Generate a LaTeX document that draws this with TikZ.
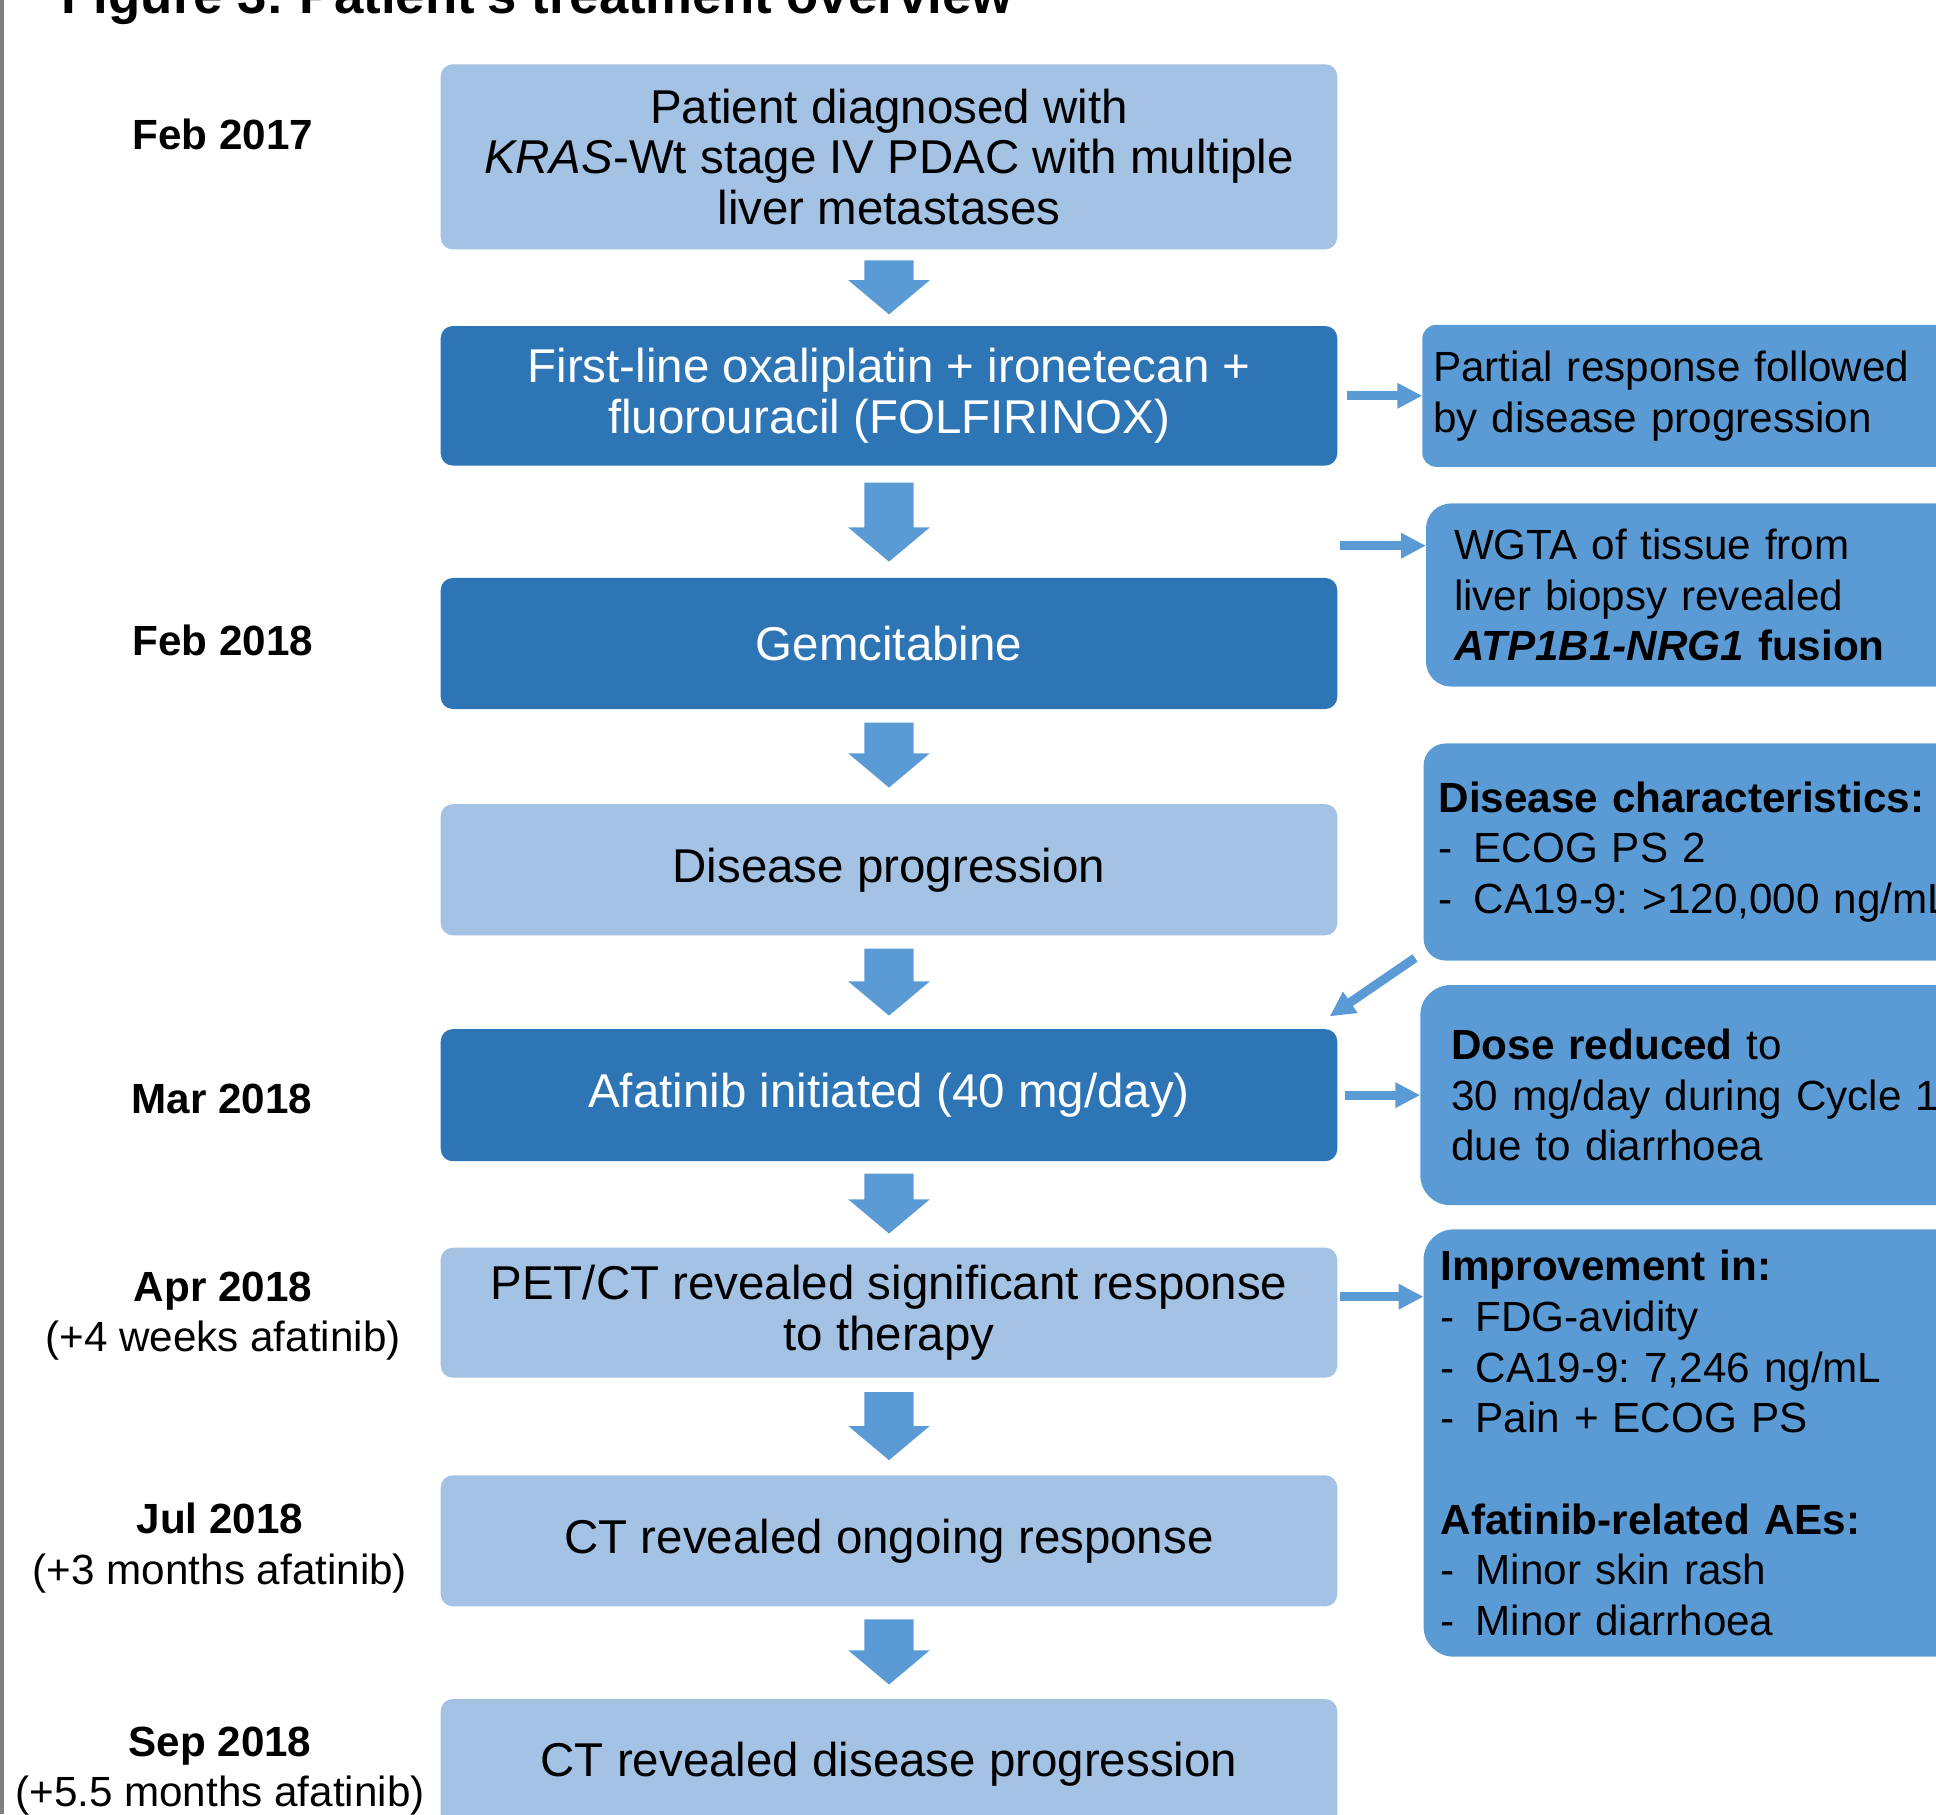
\documentclass[tikz,border=0pt]{standalone}
\usepackage{fontspec}
\setmainfont{Liberation Sans}
\frenchspacing
\definecolor{LightBox}{RGB}{164, 194, 228}
\definecolor{DarkBox}{RGB}{46, 117, 182}
\definecolor{SideBox}{RGB}{91, 155, 213}
\definecolor{FlowArrow}{RGB}{91, 155, 213}
\usetikzlibrary{arrows.meta, positioning, shapes.arrows, calc}
\newcommand{\dashitem}[1]{\makebox[0.35cm][l]{-}#1}

\begin{document}
\begin{tikzpicture}[x=0.01cm, y=-0.01cm,
  every node/.style={font=\fontsize{13.5}{14.4}\selectfont, align=center, outer sep=0pt},
  lightbox/.style={fill=LightBox, rounded corners=0.12cm, minimum width=8.96cm, inner sep=2pt},
  darkbox/.style={fill=DarkBox, text=white, rounded corners=0.12cm, minimum width=8.96cm, inner sep=2pt},
  sidebox/.style={fill=SideBox, anchor=west, align=left, text width=6cm, rounded corners=0.25cm, font=\fontsize{12}{14.4}\selectfont},
  datelbl/.style={font=\fontsize{12}{14.4}\selectfont},
  downarr/.style={single arrow, anchor=tail, fill=FlowArrow, shape border rotate=270, minimum width=0.8cm, single arrow head extend=0.16cm, single arrow tip angle=100, inner xsep=0.24cm, inner ysep=0pt},
  sidearr/.style={-{Triangle[length=0.25cm, width=0.24cm]}, line width=0.09cm, FlowArrow}]
\clip (0,0) rectangle (1936,1814);
\draw[gray, line width=0.04cm] (2,0) -- (2,1814);
\node[font=\bfseries\fontsize{15}{18}\selectfont, anchor=base west] (title) at (50,13) {Figure 3: Patient's treatment overview};

% main flow
\node[lightbox, minimum height=1.85cm] (b1) at (889,156.8) {Patient diagnosed with\\ \textit{KRAS}-Wt stage IV PDAC with multiple\\ liver metastases};
\node[darkbox, minimum height=1.395cm, below=0.766cm of b1] (b2) {First-line oxaliplatin + ironetecan +\\ fluorouracil (FOLFIRINOX)};
\node[darkbox, minimum height=1.31cm, below=1.123cm of b2] (b3) {Gemcitabine};
\node[lightbox, minimum height=1.31cm, below=0.951cm of b3] (b4) {Disease progression};
\node[darkbox, minimum height=1.32cm, below=0.938cm of b4] (b5) {Afatinib initiated (40 mg/day)};
\node[lightbox, minimum height=1.30cm, below=0.864cm of b5] (b6) {PET/CT revealed significant response\\ to therapy};
\node[lightbox, minimum height=1.31cm, below=0.975cm of b6] (b7) {CT revealed ongoing response};
\node[lightbox, minimum height=1.31cm, below=0.926cm of b7] (b8) {CT revealed disease progression};

\node[downarr, minimum height=0.54cm] (a1) at ([yshift=-0.11cm]b1.south) {};
\node[downarr, minimum height=0.79cm] (a2) at ([yshift=-0.17cm]b2.south) {};
\node[downarr, minimum height=0.65cm] (a3) at ([yshift=-0.135cm]b3.south) {};
\node[downarr, minimum height=0.67cm] (a4) at ([yshift=-0.133cm]b4.south) {};
\node[downarr, minimum height=0.60cm] (a5) at ([yshift=-0.123cm]b5.south) {};
\node[downarr, minimum height=0.68cm] (a6) at ([yshift=-0.144cm]b6.south) {};
\node[downarr, minimum height=0.65cm] (a7) at ([yshift=-0.131cm]b7.south) {};

% dates
\node[datelbl] (d1) at (223,134.6) {\textbf{Feb 2017}};
\node[datelbl] (d2) at (223,640.8) {\textbf{Feb 2018}};
\node[datelbl] (d3) at (222,1098.9) {\textbf{Mar 2018}};
\node[datelbl] (d4) at (223,1316) {\textbf{Apr 2018}\\ (+4 weeks afatinib)};
\node[datelbl] (d5) at (220,1548) {\textbf{Jul 2018}\\ (+3 months afatinib)};
\node[datelbl] (d6) at (220,1771) {\textbf{Sep 2018}\\ (+5.5 months afatinib)};

% side notes
\node[sidebox, minimum height=1.42cm, inner xsep=0.11cm, rounded corners=0.14cm, right=0.85cm of b2] (r1) {Partial response followed\\ by disease progression};
\node[sidebox, minimum height=1.83cm, inner xsep=0.28cm] (r2) at (1426,595) {WGTA of tissue from\\ liver biopsy revealed\\ \textbf{\textit{ATP1B1-NRG1} fusion}};
\node[sidebox, minimum height=2.17cm, inner xsep=0.15cm, rounded corners=0.22cm] (r3) at (1423.6,852) {\textbf{Disease characteristics:}\\ \dashitem{ECOG PS 2}\\ \dashitem{CA19-9: >120,000 ng/mL}};
\node[sidebox, minimum height=2.2cm, inner xsep=0.31cm, rounded corners=0.3cm, right=0.83cm of b5] (r4) {\textbf{Dose reduced} to\\ 30 mg/day during Cycle 1\\ due to diarrhoea};
\node[sidebox, minimum height=4.27cm, inner xsep=0.17cm, rounded corners=0.3cm] (r5) at (1423.6,1443) {\textbf{Improvement in:}\\ \dashitem{FDG-avidity}\\ \dashitem{CA19-9: 7,246 ng/mL}\\ \dashitem{Pain + ECOG PS}\\[14.4pt] \textbf{Afatinib-related AEs:}\\ \dashitem{Minor skin rash}\\ \dashitem{Minor diarrhoea}};

\coordinate (w2) at (1340,545.7);
\coordinate (w6) at ([xshift=0.03cm, yshift=0.16cm]b6.east);
\draw[sidearr] ([xshift=0.1cm]b2.east) -- (r1.west);
\draw[sidearr] (w2) -- (w2 -| r2.west);
\draw[sidearr] ([shift={(-0.086cm,0.026cm)}]r3.south west) -- ([shift={(-0.076cm,0.127cm)}]b5.north east);
\draw[sidearr] ([xshift=0.08cm]b5.east) -- (r4.west);
\draw[sidearr] (w6) -- (w6 -| r5.west);
\end{tikzpicture}
\end{document}
